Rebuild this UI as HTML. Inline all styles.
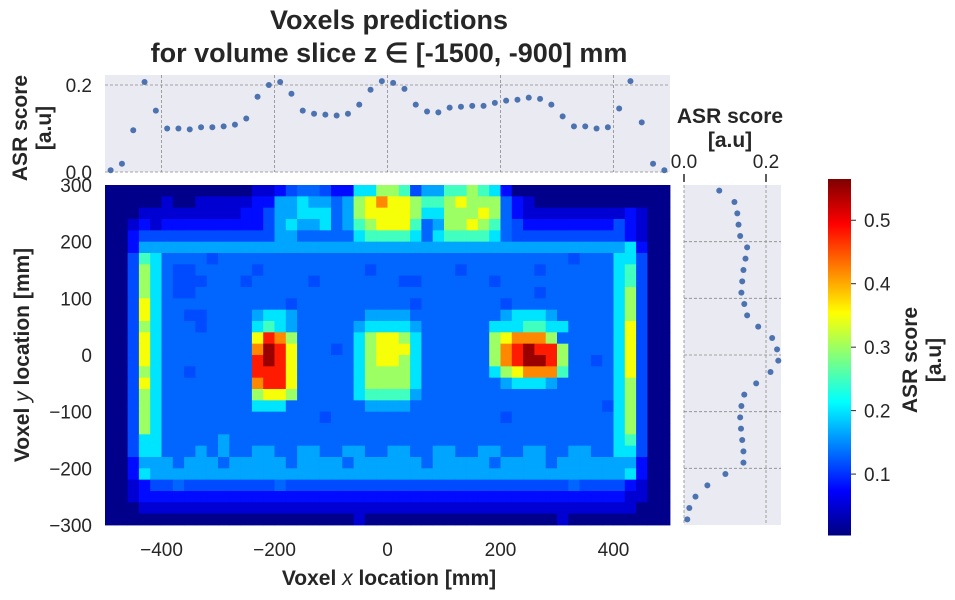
<!DOCTYPE html>
<html><head><meta charset="utf-8"><style>
html,body{margin:0;padding:0;background:#fff;}
svg{display:block;font-family:"Liberation Sans",sans-serif;}
</style></head><body>
<svg id="chart" width="955" height="600" viewBox="0 0 955 600" xmlns="http://www.w3.org/2000/svg">
<g id="title" font-weight="bold" font-size="27" fill="#262626" text-anchor="middle">
<text x="389" y="29">Voxels predictions</text>
<text x="389" y="62">for volume slice z ∈ [-1500, -900] mm</text>
</g>
<rect x="105" y="75" width="565" height="97" fill="#eaeaf2"/>
<rect x="684" y="185" width="97" height="340" fill="#eaeaf2"/>
<g id="topgrid"></g>
<g id="rightgrid"></g>
<g id="heat"></g>
<g id="topdots"></g>
<g id="rightdots"></g>
<g id="cbar"></g>
<g id="axes" font-size="19" fill="#262626"></g>
<g font-weight="bold" font-size="21" fill="#262626" text-anchor="middle">
<text x="389" y="585">Voxel <tspan font-style="italic" font-weight="normal">x</tspan> location [mm]</text>
<text transform="translate(29,355) rotate(-90)">Voxel <tspan font-style="italic" font-weight="normal">y</tspan> location [mm]</text>
<text transform="translate(27,128) rotate(-90)">ASR score</text>
<text transform="translate(51,128) rotate(-90)">[a.u]</text>
<text x="730" y="123">ASR score</text>
<text x="730" y="147">[a.u]</text>
<text transform="translate(917,360) rotate(-90)">ASR score</text>
<text transform="translate(941,360) rotate(-90)">[a.u]</text>
</g>
</svg>
<script>
// ---- data ----
const xTicks = [-400, -200, 0, 200, 400];
const yTicks = [300, 200, 100, 0, -100, -200, -300];
const cbTicks = [0.1, 0.2, 0.3, 0.4, 0.5];
const levelValues = [0.01,0.05,0.08,0.115,0.13,0.165,0.2,0.25,0.3,0.35,0.42,0.48,0.55];
const levelCodes = "0123456789abc";
const gridRows = [
"0000000000"+"0001123443"+"2266887355"+"7787620000"+"0000000000",
"0000010011"+"1112255655"+"4589a99877"+"8988842100"+"0000000000",
"0001111111"+"1122355666"+"4589999866"+"8889842111"+"1111112100",
"0012122222"+"2222356556"+"4578999745"+"8898743222"+"2222232100",
"0023333333"+"3333355444"+"4467777646"+"7777643333"+"3333332100",
"0025555555"+"5555555555"+"5555555555"+"5555555555"+"5555556200",
"00376"+"4444344444444444444444444444444444443444"+"66300",
"00386"+"4334444434444444443444444434444443444444"+"67300",
"00386"+"4333444344444344444443344444434444444444"+"67300",
"00386"+"4334444444444444444444444444444443444444"+"68300",
"00396"+"4444444444434444444444344444443444444444"+"68300",
"00396"+"44334444"+"5665"+"44444"+"455554"+"444444"+"4566654"+"4444"+"68300",
"00386"+"44434444"+"6765"+"44444"+"566665"+"444444"+"6667766"+"4444"+"69300",
"00396"+"44444444"+"9ba8"+"44444"+"689986"+"444444"+"89aaa84"+"4444"+"69300",
"00396"+"44444444"+"acb9"+"44434"+"689996"+"444444"+"8abcbb8"+"4444"+"69300",
"00396"+"44444444"+"bcb9"+"44444"+"689986"+"444444"+"8abccb8"+"4434"+"69300",
"00386"+"44344444"+"bbb9"+"44444"+"688886"+"444444"+"689aaa7"+"4444"+"69300",
"00396"+"44444444"+"abb9"+"44444"+"688886"+"444444"+"4566654"+"4444"+"68300",
"00386"+"44444444"+"8998"+"44444"+"677775"+"444444"+"4444444"+"4444"+"68300",
"00386"+"44444444"+"6664"+"44444"+"455554"+"444444"+"4444444"+"4443"+"68300",
"00386"+"4444444444444434444444444444443444444444"+"68300",
"00386"+"4444444444444444444444444444444444444444"+"68300",
"00366"+"4444454444444444444444444444444444444444"+"67300",
"00366"+"4445454455445544554455445544554455445544"+"66300",
"00255"+"5455545555545555455555545555545555455555"+"55200",
"0026"+"555555555555555555555555555555555555555555"+"6200",
"0012"+"334333333334333333333333333333333333343333"+"2100",
"0012"+"222222222222222222222222222222222222222222"+"1100",
"0001"+"111111111111111111111111111111111111111111"+"1000",
"0000"+"000000000000000000100000000000000000100000"+"0000"
];
const topScores = [0.004,0.019,0.096,0.207,0.141,0.100,0.100,0.098,0.103,0.103,0.105,0.109,0.123,0.173,0.200,0.207,0.180,0.141,0.134,0.132,0.130,0.134,0.155,0.189,0.209,0.205,0.191,0.155,0.139,0.137,0.148,0.150,0.152,0.152,0.159,0.164,0.166,0.171,0.168,0.155,0.128,0.105,0.105,0.100,0.103,0.146,0.209,0.114,0.019,0.004];
const rightScores = [0.086,0.123,0.130,0.133,0.137,0.154,0.150,0.145,0.142,0.140,0.147,0.154,0.181,0.215,0.227,0.230,0.211,0.176,0.147,0.140,0.137,0.139,0.142,0.145,0.145,0.101,0.057,0.028,0.013,0.008];

// ---- scales ----
const NS="http://www.w3.org/2000/svg";
const VMIN=0.004, VMAX=0.565, CELL=20;
const xs = v => 105 + (v + 500) * 0.565;
const ys = v => 355 - v * (340/600);
const yt = v => 172 - v * 435;
const xr = v => 684 + v * 410;
const yc = v => 535 - (v - VMIN) / (VMAX - VMIN) * 356;
function jet(v){
  let t=(v-VMIN)/(VMAX-VMIN); t=Math.max(0,Math.min(1,t));
  const c=x=>Math.max(0,Math.min(1,x));
  const r=c(Math.min(4*t-1.5,-4*t+4.5)), g=c(Math.min(4*t-0.5,-4*t+3.5)), b=c(Math.min(4*t+0.5,-4*t+2.5));
  return `rgb(${Math.round(r*255)},${Math.round(g*255)},${Math.round(b*255)})`;
}
function mk(tag,attrs,parent){const e=document.createElementNS(NS,tag);for(const k in attrs)e.setAttribute(k,attrs[k]);parent.appendChild(e);return e;}

// grids
const tg=document.getElementById('topgrid');
xTicks.forEach(t=>{const l=mk('line',{x1:xs(t),x2:xs(t),y1:75,y2:172,stroke:'#8a8a8a','stroke-width':0.8,'stroke-dasharray':'3,2'},tg);

});
[0,0.2].forEach(t=>{const l=mk('line',{x1:105,x2:670,y1:yt(t),y2:yt(t),stroke:'#8a8a8a','stroke-width':0.8,'stroke-dasharray':'3,2'},tg);

});
const rg=document.getElementById('rightgrid');
[200,100,0,-100,-200].forEach(t=>{const l=mk('line',{x1:684,x2:781,y1:ys(t),y2:ys(t),stroke:'#8a8a8a','stroke-width':0.8,'stroke-dasharray':'3,2'},rg);

});
[0,0.2].forEach(t=>{const l=mk('line',{x1:xr(t),x2:xr(t),y1:185,y2:525,stroke:'#8a8a8a','stroke-width':0.8,'stroke-dasharray':'3,2'},rg);

});

// heatmap
const heat=document.getElementById('heat');
gridRows.forEach((row,r)=>{
  const yTop=300-r*CELL;
  for(let c=0;c<50;c++){
    const ch=row[c]||'0';
    const v=levelValues[Math.max(0,levelCodes.indexOf(ch))];
    const xL=-500+c*CELL;
    const rect=mk('rect',{x:xs(xL),y:ys(yTop),width:xs(xL+CELL)-xs(xL)+0.4,height:ys(yTop-CELL)-ys(yTop)+0.4,fill:jet(v)},heat);
    
    
  }
});

// marginal dots
const td=document.getElementById('topdots');
topScores.forEach((v,i)=>{const d=mk('circle',{cx:xs(-490+i*CELL),cy:yt(v),r:3,fill:'#4c72b0'},td);

});
const rd=document.getElementById('rightdots');
rightScores.forEach((v,i)=>{const d=mk('circle',{cx:xr(v),cy:ys(290-i*CELL),r:3,fill:'#4c72b0'},rd);

});

// colorbar
const cb=document.getElementById('cbar');
for(let i=0;i<178;i++){
  const v0=VMIN+(VMAX-VMIN)*i/178, v1=VMIN+(VMAX-VMIN)*(i+1)/178;
  mk('rect',{x:828,y:yc(v1),width:23,height:yc(v0)-yc(v1)+0.5,fill:jet((v0+v1)/2)},cb);
}
const ax=document.getElementById('axes');
cbTicks.forEach(t=>{
  mk('line',{x1:851,x2:856,y1:yc(t),y2:yc(t),stroke:'#262626','stroke-width':1},ax);
  const tx=mk('text',{x:864,y:yc(t)+7},ax);tx.textContent=t.toFixed(1);
  
  
});
xTicks.forEach(t=>{const tx=mk('text',{x:xs(t),y:556,'text-anchor':'middle'},ax);tx.textContent=String(t).replace('-','−');

});
yTicks.forEach(t=>{const tx=mk('text',{x:92,y:ys(t)+7,'text-anchor':'end'},ax);tx.textContent=String(t).replace('-','−');

});
[[0,'0.0'],[0.2,'0.2']].forEach(([t,s])=>{const tx=mk('text',{x:92,y:yt(t)+7,'text-anchor':'end'},ax);tx.textContent=s;

});
[[0,'0.0'],[0.2,'0.2']].forEach(([t,s])=>{const tx=mk('text',{x:xr(t),y:168,'text-anchor':'middle'},ax);tx.textContent=s;


mk('line',{x1:xr(t),x2:xr(t),y1:174,y2:182,stroke:'#262626','stroke-width':1.5},ax);});
</script>
</body></html>
